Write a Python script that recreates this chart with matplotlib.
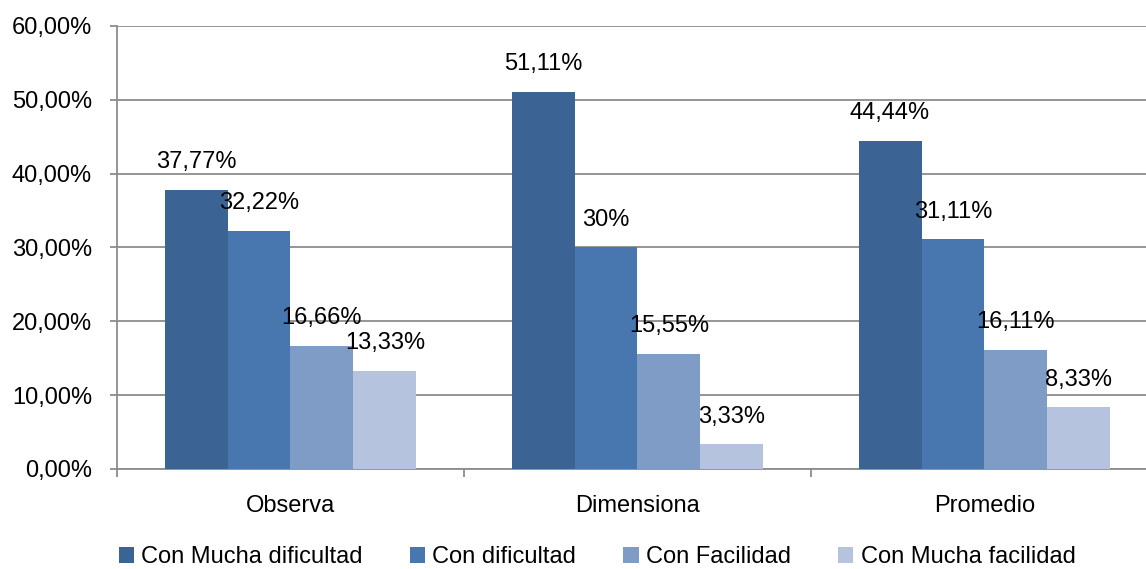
import numpy as np
import matplotlib
matplotlib.use("Agg")
import matplotlib.pyplot as plt
from matplotlib.patches import Patch

categories = ["Observa", "Dimensiona", "Promedio"]
series_names = ["Con Mucha dificultad", "Con dificultad", "Con Facilidad", "Con Mucha facilidad"]
mucha_dificultad = [37.77, 51.11, 44.44]
dificultad = [32.22, 30.0, 31.11]
facilidad = [16.66, 15.55, 16.11]
mucha_facilidad = [13.33, 3.33, 8.33]
value_labels = [
    ["37,77%", "51,11%", "44,44%"],
    ["32,22%", "30%", "31,11%"],
    ["16,66%", "15,55%", "16,11%"],
    ["13,33%", "3,33%", "8,33%"],
]
y_ticks = [0, 10, 20, 30, 40, 50, 60]
y_ticklabels = ["0,00%", "10,00%", "20,00%", "30,00%", "40,00%", "50,00%", "60,00%"]

colors = ["#3B6494", "#4877B0", "#7F9CC7", "#B5C3DE"]
grid_col = "#8C8C8C"

plt.rcParams["font.family"] = ["Liberation Sans", "DejaVu Sans"]
fs = 17

fig = plt.figure(figsize=(11.46, 5.69), dpi=100)
ax = fig.add_axes([117 / 1146, 100 / 569, 1041 / 1146, 443 / 569])

values = [mucha_dificultad, dificultad, facilidad, mucha_facilidad]
x = np.arange(len(categories))
w = 0.1815
for i, (vals, labs) in enumerate(zip(values, value_labels)):
    pos = x + (i - 1.5) * w
    ax.bar(pos, vals, width=w, color=colors[i], edgecolor="none", zorder=3)
    for px, v, lab in zip(pos, vals, labs):
        ax.annotate(lab, (px, v), xytext=(0, 20), textcoords="offset points",
                    ha="center", va="center", fontsize=fs, color="black", zorder=4)

ax.set_xlim(-0.5, 2.5)
ax.set_ylim(0, 60)
ax.set_yticks(y_ticks)
ax.set_yticklabels(y_ticklabels, fontsize=fs)
ax.yaxis.grid(True, color=grid_col, linewidth=1.3, zorder=0)

ax.set_xticks(x)
ax.set_xticklabels(categories, fontsize=fs)
ax.set_xticks([-0.5, 0.5, 1.5, 2.5], minor=True)
ax.tick_params(axis="x", which="major", length=0, pad=19)
ax.tick_params(axis="x", which="minor", length=6, width=1.3, color=grid_col, direction="out")
ax.tick_params(axis="y", length=5, width=1.3, color=grid_col, pad=13)

for s in ["top", "right"]:
    ax.spines[s].set_visible(False)
for s in ["left", "bottom"]:
    ax.spines[s].set_color(grid_col)
    ax.spines[s].set_linewidth(1.3)

handles = [Patch(facecolor=c, edgecolor="none") for c in colors]
fig.legend(handles, series_names, loc="center", bbox_to_anchor=(0.521, 0.021),
           ncol=4, frameon=False, fontsize=fs, handlelength=0.65, handleheight=0.65,
           handletextpad=0.3, columnspacing=2.0)

fig.savefig("out.png", dpi=100)
